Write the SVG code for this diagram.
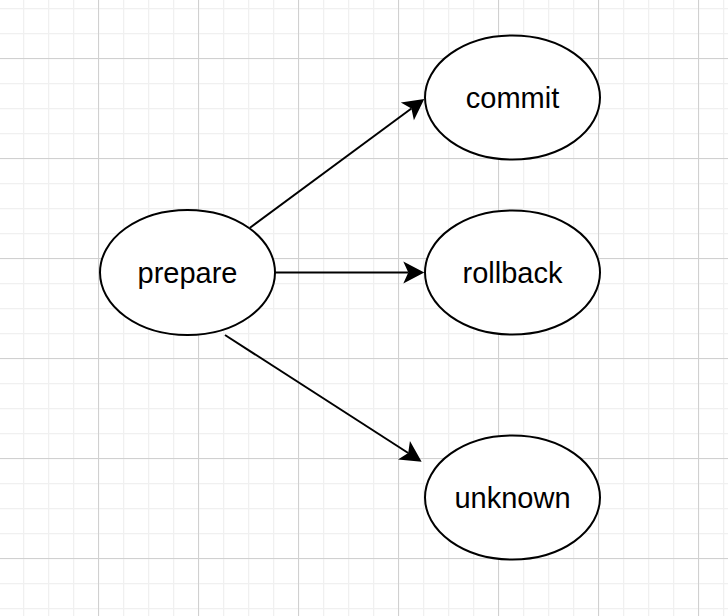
<svg xmlns="http://www.w3.org/2000/svg" width="728" height="616" viewBox="0 0 728 616">
  <style>
    .node ellipse { fill: #ffffff; stroke: #000000; stroke-width: 2; }
    .node text { font-family: "Liberation Sans", Arial, Helvetica, sans-serif; font-size: 29px; fill: #000000; text-anchor: middle; }
    .edge { fill: none; stroke: #000000; stroke-width: 2; marker-end: url(#arrow); }
  </style>
  <defs>
    <pattern id="minor" x="23" y="8" width="25" height="25" patternUnits="userSpaceOnUse">
      <path d="M0.5,0 V25 M0,0.5 H25" fill="none" stroke="#f0f0f0" stroke-width="1.5"/>
    </pattern>
    <pattern id="major" x="98" y="58" width="100" height="100" patternUnits="userSpaceOnUse">
      <path d="M0.5,0 V100 M0,0.5 H100" fill="none" stroke="#d0d0d0" stroke-width="1"/>
    </pattern>
    <marker id="arrow" viewBox="-6 -12 24 24" refX="0" refY="0" markerWidth="24" markerHeight="24" markerUnits="userSpaceOnUse" orient="auto">
      <path d="M16,0 L-5,-11 L0,0 L-5,11 Z" fill="#000000" stroke="none"/>
    </marker>
  </defs>
  <g id="background">
    <rect width="728" height="616" fill="#ffffff"/>
    <rect width="728" height="616" fill="url(#minor)"/>
    <rect width="728" height="616" fill="url(#major)"/>
  </g>
  <g id="connectors">
    <path class="edge" d="M250,227.7 L411.4,108.5"/>
    <path class="edge" d="M275,272.5 L408.3,272.5"/>
    <path class="edge" d="M225,335 L408.2,453"/>
  </g>
  <g id="prepare" class="node">
    <ellipse cx="187.5" cy="272.5" rx="87.5" ry="62.5"/>
    <text x="187.5" y="282.5">prepare</text>
  </g>
  <g id="commit" class="node">
    <ellipse cx="512.5" cy="97.5" rx="87.5" ry="62"/>
    <text x="512.5" y="107.5">commit</text>
  </g>
  <g id="rollback" class="node">
    <ellipse cx="512.5" cy="272.5" rx="87.5" ry="62"/>
    <text x="512.5" y="282.5">rollback</text>
  </g>
  <g id="unknown" class="node">
    <ellipse cx="512.5" cy="497.5" rx="87.5" ry="62"/>
    <text x="512.5" y="507.5">unknown</text>
  </g>
</svg>
